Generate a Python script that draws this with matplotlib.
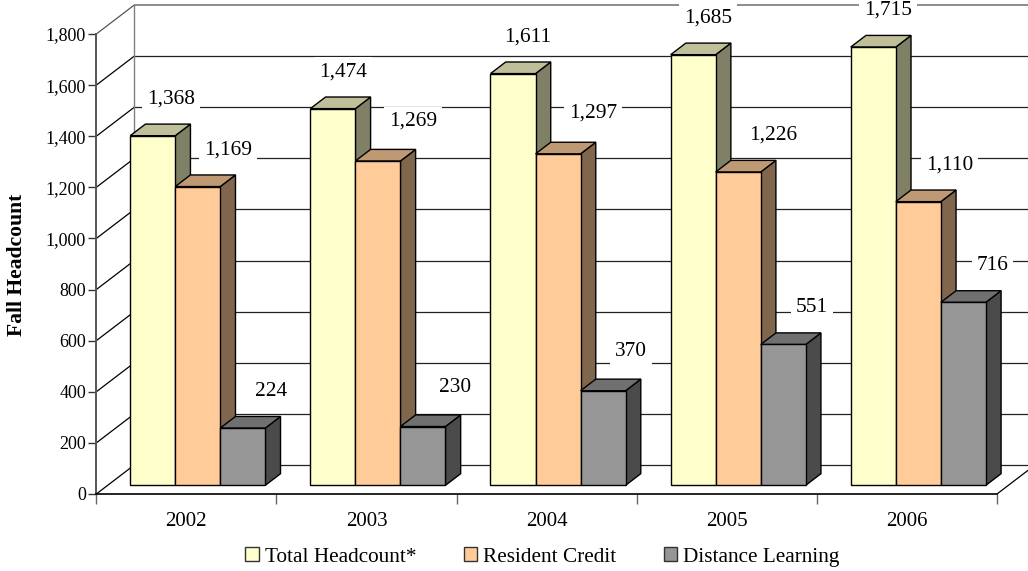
#!/usr/bin/python
# Fall headcount by year, fake-3D Excel style column chart
import numpy as np
import matplotlib as mpl
mpl.use('Agg')
from matplotlib import pyplot as plt
from matplotlib.patches import Patch

years = ['2002', '2003', '2004', '2005', '2006']
total_headcount = [1368, 1474, 1611, 1685, 1715]
resident_credit = [1169, 1269, 1297, 1226, 1110]
distance_learning = [224, 230, 370, 551, 716]
series_names = ['Total Headcount*', 'Resident Credit', 'Distance Learning']
y_ticks = list(range(0, 2000, 200))

# front, top and side colours of each series
front_cols = ['#FFFFCC', '#FFCC99', '#969696']
top_cols = ['#BFBF99', '#BF9973', '#707070']
side_cols = ['#808066', '#80664D', '#4B4B4B']

plt.rcParams['font.family'] = ['Liberation Serif', 'DejaVu Serif']

W, H = 1028, 571
fig = plt.figure(figsize=(W / 100.0, H / 100.0), dpi=100)
x0_px, x1_px, y0_px, y1_px = 96.3, 997.0, 494.0, 34.0
ax = fig.add_axes([x0_px / W, 1 - y0_px / H, (x1_px - x0_px) / W, (y0_px - y1_px) / H])
ax.set_xlim(0, 5)
ax.set_ylim(0, 1800)

px_x = 5.0 / (x1_px - x0_px)   # data units per pixel
px_y = 1800.0 / (y0_px - y1_px)
dep_x = 38 * px_x              # full depth of the floor
dep_y = 29 * px_y


def proj(x, y, d):
    # d=0 is the front of the box, d=1 the back wall
    return x + d * dep_x, y + d * dep_y


def line3(p, q, **kw):
    ax.plot([p[0], q[0]], [p[1], q[1]], clip_on=False, solid_capstyle='butt', **kw)


# walls and gridlines
for v in y_ticks:
    col = '#8c8c8c' if v == 1800 else '#222222'
    lw = 1.4 if v == 1800 else 0.9
    line3(proj(0, v, 1), proj(5, v, 1), color=col, lw=lw, zorder=1)
    line3(proj(0, v, 0), proj(0, v, 1), color='#555555' if v == 1800 else 'black', lw=0.9, zorder=1)
line3(proj(0, 0, 1), proj(0, 1800, 1), color='#808080', lw=1.0, zorder=1)
line3(proj(5, 0, 0), proj(5, 0, 1), color='black', lw=0.9, zorder=1)

# bars
bar_w = 0.25
d_front, d_back = 0.30, 0.70
group_lo = 0.125
all_vals = [total_headcount, resident_credit, distance_learning]
z = 2
for i in range(len(years)):
    for s, vals in enumerate(all_vals):
        left = i + group_lo + s * bar_w
        right = left + bar_w
        v = vals[i]
        # side face and top face are worked out from the value
        side = [proj(right, 0, d_front), proj(right, 0, d_back), proj(right, v, d_back), proj(right, v, d_front)]
        top = [proj(left, v, d_front), proj(right, v, d_front), proj(right, v, d_back), proj(left, v, d_back)]
        ax.fill(*zip(*side), facecolor=side_cols[s], edgecolor='black', lw=1.0, clip_on=False, zorder=z)
        ax.fill(*zip(*top), facecolor=top_cols[s], edgecolor='black', lw=1.0, clip_on=False, zorder=z)
        ax.bar(left + d_front * dep_x, v, width=bar_w, bottom=d_front * dep_y, align='edge',
               facecolor=front_cols[s], edgecolor='black', lw=1.0, clip_on=False, zorder=z + 1)
        z += 2

# data labels, moved by hand off the bars like in the original (pixels)
nudge_x = [[18, 30.5, 28], [10, 35, 32], [15, 35, 28], [15, 35, 29], [15, 31, 29]]
nudge_y = [[37, 37, 37], [37, 40, 39], [37, 41, 39], [37, 37, 37], [37, 37, 37]]
for i in range(len(years)):
    for s, vals in enumerate(all_vals):
        cx = i + group_lo + (s + 0.5) * bar_w + d_front * dep_x
        cy = vals[i] + d_front * dep_y
        ax.annotate(format(vals[i], ','), (cx, cy), xytext=(nudge_x[i][s], nudge_y[i][s]),
                    textcoords='offset pixels', ha='center', va='center', fontsize=15.4,
                    annotation_clip=False, zorder=500,
                    bbox=dict(facecolor='white', edgecolor='none', pad=3.5))

# axes
for sp in ['top', 'right']:
    ax.spines[sp].set_visible(False)
ax.spines['left'].set_color('#555555')
ax.spines['left'].set_linewidth(1.4)
ax.spines['bottom'].set_color('black')
ax.spines['bottom'].set_linewidth(1.2)
ax.patch.set_alpha(0)
ax.set_yticks(y_ticks)
ax.set_yticklabels([format(v, ',') for v in y_ticks], fontsize=13)
ax.tick_params(axis='y', length=5.5, width=1, color='#333333', pad=2)
ax.set_xticks(np.arange(0, 6))
ax.set_xticklabels([''] * 6)
ax.tick_params(axis='x', which='major', length=7, width=1, color='#666666')
ax.set_xticks(np.arange(5) + 0.5, minor=True)
ax.set_xticklabels(years, minor=True, fontsize=15)
ax.tick_params(axis='x', which='minor', length=0, pad=13)
fig.text(17 / W, 1 - 264.5 / H, 'Fall Headcount', rotation=90, ha='center', va='center',
         fontsize=15.6, fontweight='bold')

handles = [Patch(facecolor=front_cols[s], edgecolor='#333333', lw=1.0) for s in range(3)]
fig.legend(handles, series_names, loc='center', bbox_to_anchor=(542.5 / W, 1 - 557 / H), ncol=3,
           frameon=False, fontsize=15.3, handlelength=0.62, handleheight=0.62, handletextpad=0.28,
           columnspacing=2.25, borderpad=0)

fig.savefig('out.png', dpi=100)
